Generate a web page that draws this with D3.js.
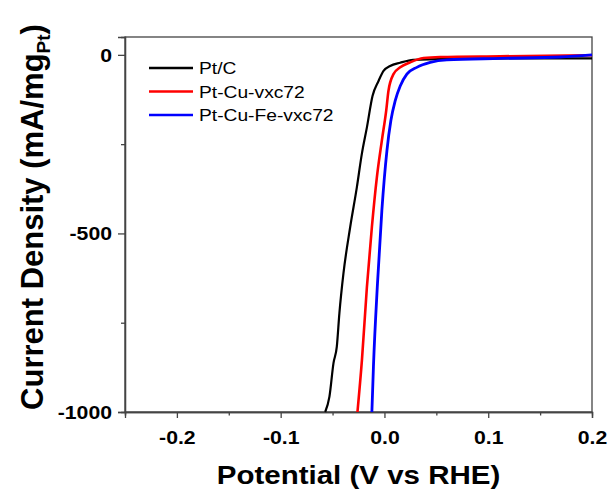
<!DOCTYPE html>
<html>
<head>
<meta charset="utf-8">
<script src="https://cdn.jsdelivr.net/npm/d3@7"></script>
<style>
  body { margin: 0; background: #fff; }
  text { font-family: "Liberation Sans", Arial, sans-serif; }
</style>
</head>
<body>
<svg id="chart" width="609" height="492"></svg>
<script>
// series (V vs RHE, mA/mg Pt)
var names = ["Pt/C", "Pt-Cu-vxc72", "Pt-Cu-Fe-vxc72"];
var colors = ["#000000", "#ff0000", "#0000ff"];

var ptcV = [-0.0571, -0.0530, -0.0491, -0.0459, -0.0434, -0.0395, -0.0330, -0.0266, -0.0217, -0.0169, -0.0115, -0.0057, -0.0009, 0.0055, 0.0152, 0.0277, 0.063, 0.12, 0.2];
var ptcJ = [-1000, -957, -863, -817, -723, -612, -482, -371, -276, -203, -115, -73, -45, -31, -22, -14, -11, -10, -10];

var cuV = [-0.0260, -0.0217, -0.0169, -0.0121, -0.0073, -0.0025, 0.0017, 0.0039, 0.0087, 0.0152, 0.0248, 0.0377, 0.0538, 0.1116, 0.2];
var cuJ = [-1000, -855, -650, -482, -343, -240, -156, -100, -54, -35, -21, -9, -6, -4, -1];

var fevV = [-0.0121, -0.0106, -0.0067, -0.0025, 0.0024, 0.0062, 0.0104, 0.0152, 0.0216, 0.0312, 0.0441, 0.0602, 0.1116, 0.1695, 0.2];
var fevJ = [-1000, -873, -640, -436, -268, -184, -128, -87, -54, -35, -21, -14, -10, -6, 0];

var xTicks = [-0.2, -0.1, 0.0, 0.1, 0.2];
var xMinor = [-0.25, -0.15, -0.05, 0.05, 0.15];
var yTicks = [0, -500, -1000];
var yMinor = [-250, -750];

var SX = 1.18; // the picture is stretched sideways a bit

var svg = d3.select("#chart");
var pLeft = 125, pRight = 592, pTop = 37, pBottom = 412;

var x = d3.scaleLinear().domain([-0.25, 0.2]).range([pLeft, pRight]);
var y = d3.scaleLinear().domain([-1000, 50]).range([pBottom, pTop]);

var series = [[ptcV, ptcJ], [cuV, cuJ], [fevV, fevJ]].map(function (s, i) {
    return { name: names[i], color: colors[i], pts: s[0].map(function (v, k) { return [v, s[1][k]]; }) };
});

// frame
svg.append("rect")
    .attr("x", pLeft).attr("y", pTop)
    .attr("width", pRight - pLeft).attr("height", pBottom - pTop)
    .attr("fill", "none").attr("stroke", "#444").attr("stroke-width", 1.3);

var gx = svg.append("g").attr("transform", "translate(0," + pBottom + ")")
    .call(d3.axisBottom(x).tickValues(xTicks).tickSize(6).tickFormat(d3.format(".1f")));
svg.append("g").attr("transform", "translate(0," + pBottom + ")")
    .call(d3.axisBottom(x).tickValues(xMinor).tickSize(3.5).tickFormat(""));
var gy = svg.append("g").attr("transform", "translate(" + pLeft + ",0)")
    .call(d3.axisLeft(y).tickValues(yTicks).tickSize(7));
svg.append("g").attr("transform", "translate(" + pLeft + ",0)")
    .call(d3.axisLeft(y).tickValues(yMinor).tickSize(4).tickFormat(""));

svg.selectAll(".domain").attr("stroke", "#444").attr("stroke-width", 1.3);
svg.selectAll(".tick line").attr("stroke", "#444").attr("stroke-width", 1.3);

gx.selectAll("text")
    .attr("font-size", 18).attr("font-weight", "bold").attr("fill", "#000")
    .attr("y", 0).attr("dy", "1.8em")
    .attr("transform", "scale(" + SX + ",1)")
    .text(function (d) { return d3.format(".1f")(d).replace("−", "-"); });
gy.selectAll("text")
    .attr("font-size", 18).attr("font-weight", "bold").attr("fill", "#000")
    .attr("x", -13 / SX).attr("dy", "0.36em")
    .attr("transform", "scale(" + SX + ",1)")
    .text(function (d) { return String(d); });

// curves
var line = d3.line()
    .x(function (d) { return x(d[0]); })
    .y(function (d) { return y(d[1]); })
    .curve(d3.curveMonotoneX);

svg.append("g").selectAll("path")
    .data(series)
    .join("path")
    .attr("d", function (d) { return line(d.pts); })
    .attr("fill", "none")
    .attr("stroke", function (d) { return d.color; })
    .attr("stroke-width", function (d, i) { return [2.2, 2.6, 2.8][i]; });

// legend
var lg = svg.append("g").attr("transform", "translate(149,68)");
lg.selectAll("line")
    .data(series)
    .join("line")
    .attr("x1", 0).attr("x2", 44)
    .attr("y1", function (d, i) { return i * 23.5; })
    .attr("y2", function (d, i) { return i * 23.5; })
    .attr("stroke", function (d) { return d.color; })
    .attr("stroke-width", 2.6);
lg.selectAll("text")
    .data(series)
    .join("text")
    .attr("transform", function (d, i) { return "translate(50," + (i * 23.5 + 6) + ") scale(" + SX + ",1)"; })
    .attr("font-size", 16.3)
    .text(function (d) { return d.name; });

// axis titles
svg.append("text")
    .attr("transform", "translate(" + ((pLeft + pRight) / 2) + ",484) scale(" + SX + ",1)")
    .attr("text-anchor", "middle")
    .attr("font-size", 25).attr("font-weight", "bold")
    .text("Potential (V vs RHE)");

var yt = svg.append("text")
    .attr("transform", "translate(43,217) rotate(-90)")
    .attr("text-anchor", "middle")
    .attr("font-size", 31).attr("font-weight", "bold");
yt.append("tspan").text("Current Density (mA/mg");
yt.append("tspan").attr("font-size", 19).attr("dy", 7).text("Pt");
yt.append("tspan").attr("dy", -7).text(")");
</script>
</body>
</html>
